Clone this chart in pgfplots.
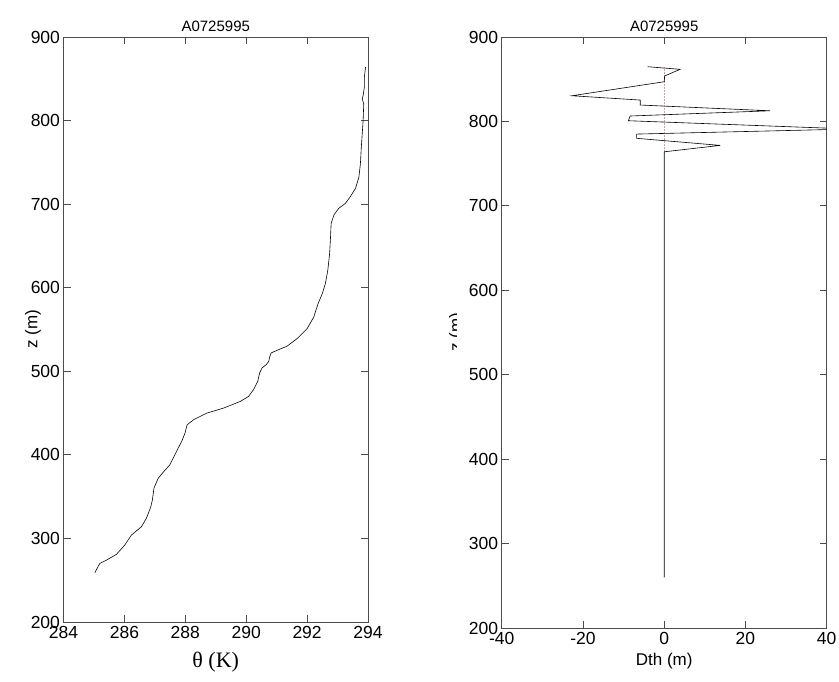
\documentclass[border=0pt]{standalone}
\usepackage{fontspec}
\setmainfont{Liberation Sans}
\newfontfamily\serif{Liberation Serif}
\usepackage{pgfplots}
\pgfplotsset{compat=1.18}

\definecolor{zeroline}{RGB}{205,160,160}

\pgfplotsset{mat/.style={
    scale only axis,
    axis lines=box,
    tick align=inside,
    major tick length=7pt,
    axis line style={black!70, line width=0.8pt},
    every tick/.style={black!70, line width=0.8pt},
    ymin=200, ymax=900,
    ytick={200,300,...,900},
    ticklabel style={font=\fontsize{17.5}{20}\selectfont},
    xticklabel style={yshift=-1pt},
    /pgf/number format/assume math mode=true,
    title={A0725995},
    title style={font=\fontsize{15}{17}\selectfont, yshift=-4pt},
    xlabel style={font=\fontsize{17}{20}\selectfont},
    ylabel style={font=\fontsize{17}{20}\selectfont},
}}

\begin{document}
\begin{tikzpicture}
\path[use as bounding box] (0,0) rectangle (839pt,682pt);

% potential temperature profile
\begin{axis}[mat,
    at={(63.5pt,60pt)}, anchor=south west,
    width=304.5pt, height=585pt,
    xmin=284, xmax=294,
    xtick={284,286,...,294},
    xlabel={\serif\fontsize{22}{24}\selectfont θ (K)},
    xlabel style={yshift=-6pt},
    ylabel={z (m)},
    ylabel style={at={(axis description cs:-0.1,0.5)}, anchor=center},
]
\addplot[black, line width=0.6pt] coordinates {
    (285.03,259) (285.19,270) (285.41,274) (285.74,281) (286.01,292)
    (286.23,304) (286.56,314) (286.72,324) (286.86,337) (286.92,346)
    (286.97,360) (287.11,372) (287.27,379) (287.49,388) (287.71,404)
    (287.88,416) (287.99,426) (288.06,436) (288.27,442) (288.71,450)
    (289.26,456) (289.81,464) (290.08,470) (290.24,478) (290.38,488)
    (290.44,498) (290.52,504) (290.66,508) (290.74,512) (290.77,517)
    (290.82,522) (291.01,525) (291.34,530) (291.67,539) (292.00,551)
    (292.22,565) (292.36,581) (292.50,593) (292.60,605) (292.68,621)
    (292.74,641) (292.77,661) (292.79,677) (292.88,687) (293.04,695)
    (293.26,701) (293.42,709) (293.59,719) (293.70,732) (293.75,748)
    (293.78,768) (293.81,784) (293.84,800) (293.86,820) (293.81,826)
    (293.84,830) (293.88,840) (293.88,852) (293.92,864)
};
\end{axis}

% displacement profile
\begin{axis}[mat,
    at={(501.7pt,54pt)}, anchor=south west,
    width=325pt, height=591pt,
    xmin=-40, xmax=40,
    xtick={-40,-20,0,20,40},
    xlabel={Dth (m)},
    xlabel style={yshift=-1pt},
    ylabel={z (m)},
    ylabel style={at={(axis description cs:-0.138,0.5)}, anchor=center},
]
\addplot[densely dotted, zeroline, line width=0.5pt] coordinates {
    (0,764) (0,865)
};
\addplot[black, line width=0.6pt] coordinates {
    (-4.1,864.8) (3.9,861.7) (0.1,853.8) (0.0,847.0) (-22.7,830.4)
    (-5.9,825.3) (-5.9,819.4) (26.1,812.6) (-8.4,806.4) (-8.8,800.8)
    (46,791) (-6.8,785) (-6.8,780) (13.8,771.6) (0.0,764) (0.0,260)
};
\end{axis}

% the right-hand y label is mostly hidden in the original
\fill[white] (456.5pt,290pt) rectangle (470pt,380pt);
\end{tikzpicture}
\end{document}
